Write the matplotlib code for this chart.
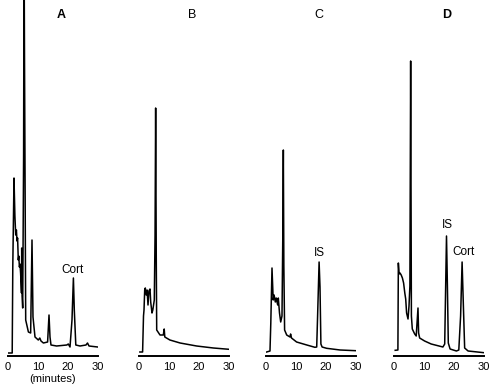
import matplotlib
matplotlib.use("Agg")
import matplotlib.pyplot as plt

plt.rcParams['font.family'] = ['Liberation Sans', 'DejaVu Sans']

# Panel A
a_time = [0, 1.4, 1.6, 2.0, 2.3, 2.57, 2.8, 3.0, 3.2, 3.43, 3.6, 3.8, 4.0, 4.2, 4.5, 4.57, 4.7,
          4.9, 5.2, 5.35, 5.5, 5.9, 6.8, 7.55, 8.0, 8.33, 9.0, 10.1, 10.6, 11.0, 11.8, 13.2,
          13.67, 14.0, 14.33, 16.2, 19.6, 20.1, 20.67, 21.33, 21.8, 22.1, 22.6, 24.0, 26.0,
          26.5, 27.0, 29.9]
a_signal = [3, 3, 90, 178, 140, 121, 126, 115, 118, 96, 100, 89, 92, 83, 63, 108, 60,
            48, 200, 420, 300, 36, 24, 23, 116, 39, 19, 16, 18, 15, 13, 14,
            41, 19, 11, 10, 11, 12, 9, 36, 78, 46, 11, 10, 11,
            13, 10, 9]

# Panel B
b_time = [0.3, 1.2, 1.5, 1.67, 1.9, 2.1, 2.4, 2.7, 3.0, 3.3, 3.67, 3.9, 4.33, 4.6, 5.1, 5.35,
          5.55, 5.75, 5.9, 7.0, 8.1, 8.4, 8.6, 10.3, 13.7, 19.2, 24.8, 30]
b_signal = [4, 4, 40, 46, 66, 68, 61, 66, 51, 65, 67, 54, 43, 46, 56, 120,
            248, 100, 26, 21, 21, 27, 19, 16, 13, 10, 8, 6.7]

# Panel C
c_time = [0.2, 1.33, 1.6, 2.0, 2.4, 2.7, 3.1, 3.4, 3.9, 4.1, 4.5, 4.9, 5.33, 5.6, 5.78, 5.95,
          6.2, 6.9, 8.0, 8.2, 8.5, 10.2, 13.6, 16.3, 16.9, 17.2, 17.7, 18.0, 18.3, 18.7,
          20.2, 24.7, 30]
c_signal = [4, 5, 33, 88, 56, 61, 54, 58, 51, 58, 43, 34, 40, 120, 206, 90,
            26, 21, 19, 22, 18, 14, 11, 8.7, 9, 40, 94, 69, 12, 9,
            7.7, 6, 5.3]

# Panel D
d_time = [0.4, 1.3, 1.45, 1.7, 2.0, 2.4, 2.8, 3.2, 3.6, 3.9, 4.2, 4.67, 5.0, 5.3, 5.55, 5.8,
          6.1, 6.9, 7.4, 8.0, 8.2, 8.55, 10.2, 12.4, 16.3, 16.9, 17.5, 17.8, 18.1, 18.7,
          20.8, 21.6, 22.2, 22.7, 23.1, 23.55, 24.7, 30]
d_signal = [5.7, 6, 93, 82, 83, 81, 78, 73, 63, 57, 43, 37, 50, 70, 295, 40,
            27, 22, 20, 48, 23, 18, 15, 12, 9, 12, 120, 70, 13, 7,
            5, 6, 40, 94, 53, 8, 5, 3.3]

panel_titles = ["A", "B", "C", "D"]
tick_values = [0, 10, 20, 30]
tick_labels = ["0", "10", "20", "30"]

W, H = 500, 389
fig = plt.figure(figsize=(W / 100, H / 100), dpi=100)

lefts = [8, 139, 266, 394]
width_px = 90
bottom_px = 356

panels = [(a_time, a_signal), (b_time, b_signal), (c_time, c_signal), (d_time, d_signal)]
title_bold = [True, False, False, True]

axes = []
for i, (t, s) in enumerate(panels):
    ax = fig.add_axes([lefts[i] / W, (H - bottom_px) / H, width_px / W, bottom_px / H])
    ax.plot(t, s, color="black", lw=1.1)
    ax.set_xlim(0, 30)
    ax.set_ylim(0, bottom_px)
    for sp in ["top", "left", "right"]:
        ax.spines[sp].set_visible(False)
    ax.spines["bottom"].set_linewidth(1.4)
    ax.set_yticks([])
    ax.set_xticks(tick_values)
    ax.set_xticklabels(tick_labels, fontsize=8)
    ax.tick_params(axis="x", length=0, pad=4)
    ax.patch.set_alpha(0)
    ax.text(17.7, 341, panel_titles[i], ha="center", va="center", fontsize=9,
            fontweight="bold" if title_bold[i] else "normal")
    axes.append(ax)

axes[0].set_xlabel("(minutes)", fontsize=8, labelpad=2)
axes[0].text(21.5, 86, "Cort", ha="center", va="center", fontsize=8.5)
axes[2].text(17.7, 103, "IS", ha="center", va="center", fontsize=8.5)
axes[3].text(17.8, 131, "IS", ha="center", va="center", fontsize=8.5)
axes[3].text(23.1, 104, "Cort", ha="center", va="center", fontsize=8.5)

fig.savefig("out.png", dpi=100)
